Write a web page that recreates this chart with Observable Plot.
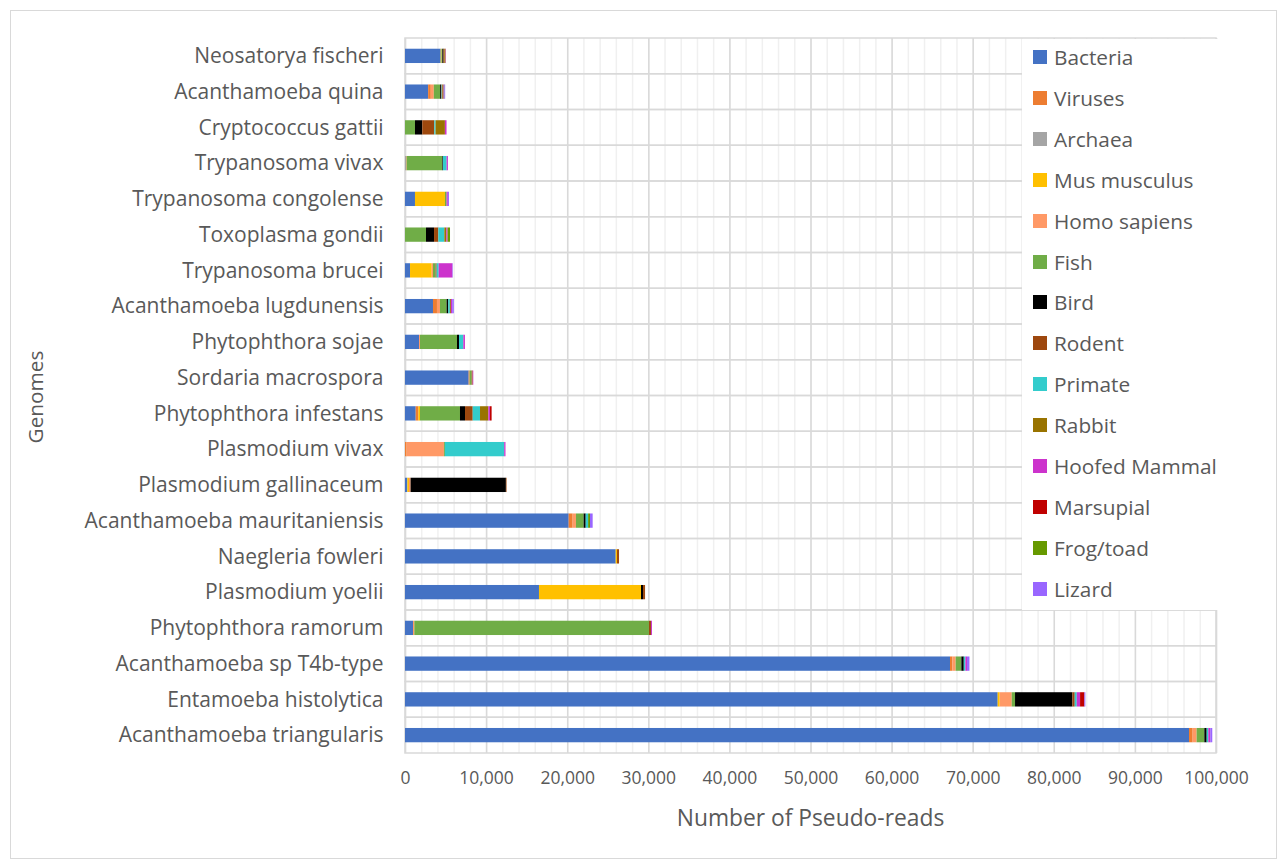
<!DOCTYPE html>
<html>
<head>
<meta charset="utf-8">
<script src="https://cdn.jsdelivr.net/npm/d3@7"></script>
<script src="https://cdn.jsdelivr.net/npm/@observablehq/plot@0.6"></script>
<style>
  body { margin: 0; background: #fff; overflow: hidden; }
  #chart { position: relative; width: 1278px; height: 861px; font-family: "Open Sans", Lato, sans-serif; color: #595959; }
  #frame { position: absolute; left: 10px; top: 10px; width: 1265px; height: 847px; border: 1px solid #d9d9d9; pointer-events: none; }
  #chart svg { position: absolute; left: 0; top: 0; }
  #chart svg g[aria-label="x-axis tick label"] text { font-size: 17.5px; }
  .title-x { position: absolute; left: 405px; width: 811px; top: 802px; text-align: center; font-size: 22.8px; }
  .title-y { position: absolute; left: 35px; top: 397px; font-size: 20.8px; transform: translate(-50%, -50%) rotate(-90deg); white-space: nowrap; }
  #legend { position: absolute; left: 1022px; top: 39px; width: 196px; height: 571px; background: #fff; }
  #legend .item { position: absolute; left: 11px; height: 24px; display: flex; align-items: center; font-size: 20.8px; white-space: nowrap; }
  #legend .sw { width: 14px; height: 14px; margin-right: 7px; }
</style>
</head>
<body>
<div id="chart">
  <div id="frame"></div>
</div>
<script>
// Genomes, listed top to bottom
const genomes = [
  "Neosatorya fischeri", "Acanthamoeba quina", "Cryptococcus gattii", "Trypanosoma vivax",
  "Trypanosoma congolense", "Toxoplasma gondii", "Trypanosoma brucei", "Acanthamoeba lugdunensis",
  "Phytophthora sojae", "Sordaria macrospora", "Phytophthora infestans", "Plasmodium vivax",
  "Plasmodium gallinaceum", "Acanthamoeba mauritaniensis", "Naegleria fowleri", "Plasmodium yoelii",
  "Phytophthora ramorum", "Acanthamoeba sp T4b-type", "Entamoeba histolytica", "Acanthamoeba triangularis"
];

// Source taxa, in stacking order
const taxa = ["Bacteria", "Viruses", "Archaea", "Mus musculus", "Homo sapiens", "Fish", "Bird",
  "Rodent", "Primate", "Rabbit", "Hoofed Mammal", "Marsupial", "Frog/toad", "Lizard"];
const taxonColors = ["#4472C4", "#ED7D31", "#A5A5A5", "#FFC000", "#FF9966", "#70AD47", "#000000",
  "#9E480E", "#33CCCC", "#997300", "#CC33CC", "#C00000", "#669900", "#9966FF"];

// Pseudo-read counts per taxon, one value per genome (same order as genomes)
const bacteria     = [4400, 2850, 0, 0, 1230, 0, 620, 3450, 1730, 7850, 1320, 0, 290, 20180, 25980, 16520, 990, 67200, 73080, 96670];
const viruses      = [0, 330, 0, 0, 0, 0, 0, 490, 0, 120, 330, 200, 0, 490, 0, 0, 0, 300, 0, 450];
const archaea      = [0, 0, 0, 120, 0, 0, 0, 0, 0, 0, 0, 0, 0, 0, 0, 0, 0, 0, 0, 0];
const musMusculus  = [100, 0, 0, 0, 3700, 0, 2670, 0, 0, 0, 200, 0, 200, 0, 160, 12580, 0, 0, 250, 0];
const homoSapiens  = [0, 370, 0, 80, 0, 0, 160, 370, 120, 0, 0, 4600, 200, 410, 0, 0, 160, 400, 1480, 490];
const fish         = [100, 780, 1230, 4400, 200, 2590, 330, 820, 4560, 250, 4930, 120, 0, 950, 0, 0, 28930, 700, 410, 950];
const bird         = [150, 120, 900, 80, 0, 990, 0, 200, 250, 0, 620, 0, 11750, 250, 0, 250, 0, 300, 7070, 290];
const rodent       = [100, 60, 1480, 0, 0, 530, 120, 0, 0, 120, 950, 0, 80, 0, 250, 250, 250, 0, 290, 0];
const primate      = [0, 60, 160, 450, 0, 740, 250, 200, 530, 0, 900, 7310, 0, 300, 0, 0, 0, 200, 250, 200];
const rabbit       = [150, 100, 1150, 0, 0, 250, 0, 130, 0, 0, 1030, 0, 0, 0, 0, 0, 0, 0, 0, 0];
const hoofedMammal = [50, 100, 200, 160, 150, 150, 1690, 160, 200, 80, 200, 160, 0, 0, 0, 0, 120, 200, 410, 250];
const marsupial    = [0, 0, 0, 0, 0, 0, 0, 0, 0, 0, 200, 0, 0, 0, 0, 0, 0, 0, 530, 0];
const frogToad     = [0, 80, 0, 0, 0, 300, 0, 0, 0, 0, 0, 0, 0, 230, 0, 0, 0, 0, 0, 0];
const lizard       = [0, 100, 0, 0, 140, 0, 60, 200, 0, 0, 0, 0, 0, 330, 0, 0, 0, 300, 120, 240];

const xTicks = [0, 10000, 20000, 30000, 40000, 50000, 60000, 70000, 80000, 90000, 100000];
const minorTicks = d3.range(0, 100001, 2000);

const seriesValues = [bacteria, viruses, archaea, musMusculus, homoSapiens, fish, bird,
  rodent, primate, rabbit, hoofedMammal, marsupial, frogToad, lizard];

const rows = taxa.flatMap((taxon, i) =>
  genomes.map((genome, j) => ({genome, taxon, reads: seriesValues[i][j]})));

const rowHeight = (861 - 38 - 108) / genomes.length;
const barInset = rowHeight * 0.6 / 2;

const chart = Plot.plot({
  width: 1278,
  height: 861,
  marginLeft: 405,
  marginRight: 62,
  marginTop: 38,
  marginBottom: 108,
  style: {fontFamily: "'Open Sans', Lato, sans-serif", fontSize: "21px", color: "#595959", background: "transparent"},
  x: {domain: [0, 100000], ticks: xTicks, tickFormat: d3.format(","), tickSize: 0, tickPadding: 18, label: null},
  y: {domain: genomes, padding: 0, round: false, tickSize: 0, tickPadding: 22, label: null},
  color: {domain: taxa, range: taxonColors},
  marks: [
    Plot.ruleX(minorTicks, {stroke: "#f0f0f0", strokeWidth: 1.5}),
    Plot.ruleX(xTicks, {stroke: "#d9d9d9", strokeWidth: 1.5}),
    Plot.barX(genomes, {x1: 0, x2: 100000, y: d => d, fill: "none", stroke: "#d9d9d9", strokeWidth: 1.5}),
    Plot.barX(rows, {x: "reads", y: "genome", fill: "taxon", insetTop: barInset, insetBottom: barInset})
  ]
});

const root = document.getElementById("chart");
root.appendChild(chart);

const xTitle = document.createElement("div");
xTitle.className = "title-x";
xTitle.textContent = "Number of Pseudo-reads";
root.appendChild(xTitle);

const yTitle = document.createElement("div");
yTitle.className = "title-y";
yTitle.textContent = "Genomes";
root.appendChild(yTitle);

// Legend panel over the right side of the plot
const legend = document.createElement("div");
legend.id = "legend";
taxa.forEach((taxon, i) => {
  const item = document.createElement("div");
  item.className = "item";
  item.style.top = (18 + i * 40.9 - 12) + "px";
  const sw = document.createElement("div");
  sw.className = "sw";
  sw.style.background = taxonColors[i];
  const label = document.createElement("span");
  label.textContent = taxon;
  item.appendChild(sw);
  item.appendChild(label);
  legend.appendChild(item);
});
root.appendChild(legend);
</script>
</body>
</html>
